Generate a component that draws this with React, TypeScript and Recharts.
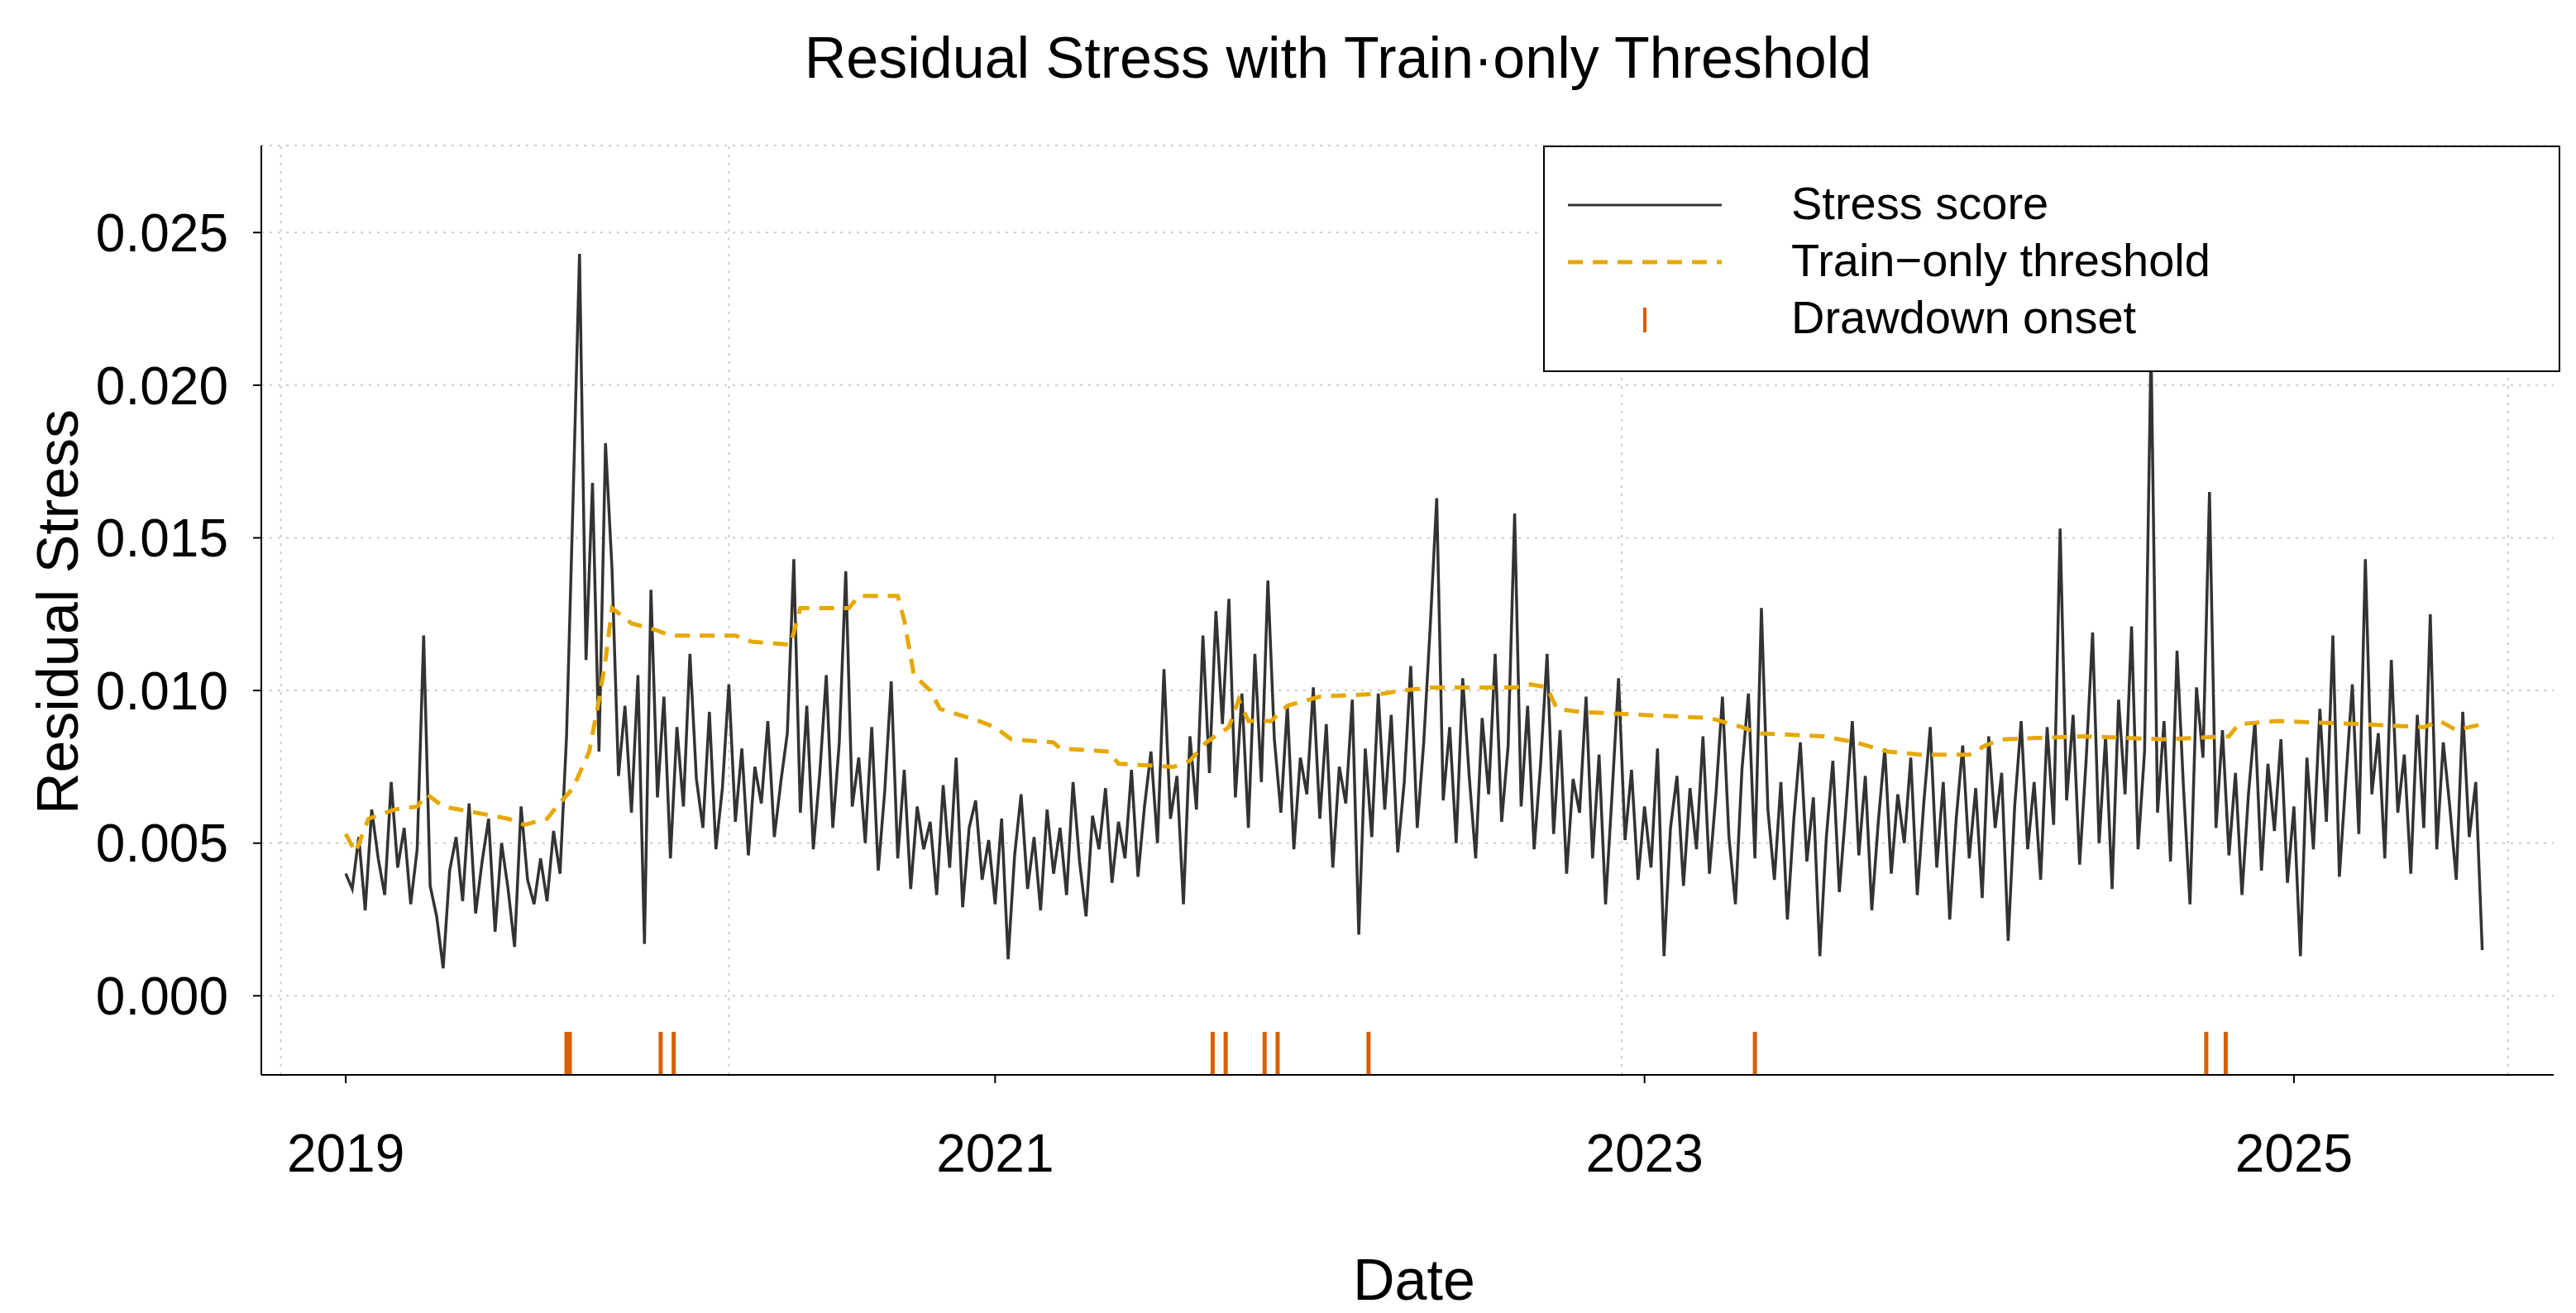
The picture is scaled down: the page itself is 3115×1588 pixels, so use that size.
import React from "react";
import { ComposedChart, Line, XAxis, YAxis, CartesianGrid, ReferenceLine } from "recharts";

const startYear = 2019.0;
const stepYear = 0.02;
const stressValues = [
.0040,.0035,.0052,.0028,.0061,.0045,.0033,.0070,.0042,.0055,
.0030,.0048,.0118,.0036,.0026,.0009,.0041,.0052,.0031,.0063,
.0027,.0044,.0058,.0021,.0050,.0035,.0016,.0062,.0038,.0030,
.0045,.0031,.0054,.0040,.0085,.0162,.0243,.0110,.0168,.0080,
.0181,.0140,.0072,.0095,.0060,.0105,.0017,.0133,.0065,.0098,
.0045,.0088,.0062,.0112,.0071,.0055,.0093,.0048,.0068,.0102,
.0057,.0081,.0046,.0075,.0063,.0090,.0052,.0070,.0086,.0143,
.0060,.0095,.0048,.0073,.0105,.0055,.0083,.0139,.0062,.0078,
.0050,.0088,.0041,.0067,.0103,.0045,.0074,.0035,.0062,.0048,
.0057,.0033,.0069,.0042,.0078,.0029,.0055,.0064,.0038,.0051,
.0030,.0058,.0012,.0046,.0066,.0035,.0052,.0028,.0061,.0040,
.0055,.0033,.0070,.0044,.0026,.0059,.0048,.0068,.0037,.0057,
.0045,.0074,.0039,.0062,.0080,.0050,.0107,.0058,.0072,.0030,
.0085,.0061,.0118,.0073,.0126,.0089,.0130,.0065,.0099,.0055,
.0112,.0070,.0136,.0084,.0060,.0095,.0048,.0078,.0066,.0101,
.0058,.0089,.0042,.0075,.0063,.0097,.0020,.0081,.0052,.0099,
.0061,.0092,.0047,.0070,.0108,.0055,.0083,.0121,.0163,.0064,
.0088,.0050,.0104,.0072,.0045,.0091,.0066,.0112,.0057,.0082,
.0158,.0062,.0095,.0048,.0076,.0112,.0053,.0087,.0040,.0071,
.0060,.0098,.0045,.0079,.0030,.0066,.0104,.0051,.0074,.0038,
.0062,.0042,.0081,.0013,.0055,.0072,.0036,.0068,.0048,.0085,
.0040,.0066,.0098,.0052,.0030,.0074,.0099,.0045,.0127,.0061,
.0038,.0070,.0025,.0058,.0083,.0044,.0065,.0013,.0052,.0077,
.0034,.0061,.0090,.0046,.0072,.0028,.0057,.0081,.0040,.0066,
.0050,.0078,.0033,.0063,.0088,.0042,.0070,.0025,.0058,.0082,
.0045,.0068,.0032,.0085,.0055,.0073,.0018,.0062,.0090,.0048,
.0070,.0038,.0088,.0056,.0153,.0064,.0092,.0043,.0077,.0119,
.0050,.0085,.0035,.0097,.0066,.0121,.0048,.0080,.0213,.0060,
.0090,.0044,.0113,.0068,.0030,.0101,.0078,.0165,.0055,.0087,
.0046,.0073,.0033,.0066,.0090,.0041,.0076,.0054,.0084,.0037,
.0062,.0013,.0078,.0048,.0094,.0057,.0118,.0039,.0071,.0102,
.0053,.0143,.0066,.0086,.0045,.0110,.0060,.0079,.0040,.0092,
.0055,.0125,.0048,.0083,.0062,.0038,.0093,.0052,.0070,.0015,
];

const thresholdYears = [2019.00,2019.03,2019.07,2019.15,2019.22,2019.25,2019.30,2019.50,2019.55,2019.62,2019.65,2019.70,2019.75,2019.78,2019.80,2019.82,2019.88,2019.95,2020.00,2020.20,2020.25,2020.37,2020.40,2020.55,2020.58,2020.70,2020.72,2020.75,2020.80,2020.83,2020.95,2021.00,2021.05,2021.18,2021.20,2021.35,2021.38,2021.55,2021.60,2021.65,2021.72,2021.75,2021.78,2021.85,2021.90,2022.00,2022.20,2022.25,2022.35,2022.60,2022.65,2022.70,2022.73,2022.80,2023.00,2023.20,2023.30,2023.35,2023.55,2023.65,2023.75,2023.85,2024.00,2024.05,2024.10,2024.35,2024.60,2024.80,2024.83,2024.95,2025.20,2025.40,2025.45,2025.50,2025.58];
const thresholdValues = [.0053,.0047,.0058,.0061,.0062,.0066,.0062,.0058,.0056,.0058,.0062,.0068,.0080,.0097,.0110,.0127,.0122,.0120,.0118,.0118,.0116,.0115,.0127,.0127,.0131,.0131,.0123,.0105,.0100,.0094,.0090,.0088,.0084,.0083,.0081,.0080,.0076,.0075,.0077,.0083,.0088,.0097,.0090,.0090,.0095,.0098,.0099,.0100,.0101,.0101,.0102,.0101,.0094,.0093,.0092,.0091,.0088,.0086,.0085,.0083,.0080,.0079,.0079,.0082,.0084,.0085,.0084,.0085,.0089,.0090,.0089,.0088,.0090,.0087,.0089];

const onsetYears = [2019.68, 2019.69, 2019.97, 2020.01, 2021.67, 2021.71, 2021.83, 2021.87, 2022.15, 2023.34, 2024.73, 2024.79];
const xTicks = [2019, 2021, 2023, 2025];
const yTicks = [0, 0.005, 0.01, 0.015, 0.02, 0.025];
const vGridYears = [2018.80, 2020.18, 2022.93, 2025.66];

const stressData = stressValues.map((v, i) => ({ x: startYear + i * stepYear, stress: v }));
const thresholdData = thresholdYears.map((x, i) => ({ x, thr: thresholdValues[i] }));

const FONT = "'Liberation Sans', Arial, sans-serif";
const ORANGE = "#D95F02";
const GOLD = "#E6A800";

export default function App() {
  return (
    <div style={{ position: "relative", width: 3100, height: 1572, fontFamily: FONT, background: "#fff" }}>
      <ComposedChart width={3088} height={1566} margin={{ top: 168, right: 8, left: 108, bottom: 134 }}>
        <CartesianGrid vertical={false} stroke="#cccccc" strokeDasharray="3 7" strokeWidth={2} />
        {vGridYears.map((x) => (
          <ReferenceLine key={"g" + x} x={x} stroke="#cccccc" strokeDasharray="3 7" strokeWidth={2} />
        ))}
        <XAxis dataKey="x" type="number" domain={[2018.74, 2025.8]} ticks={xTicks} allowDataOverflow
          height={140} tickSize={10} tickMargin={62} stroke="#000" strokeWidth={2}
          tick={{ fill: "#000", fontSize: 64, fontFamily: FONT }} />
        <YAxis type="number" domain={[-0.00259, 0.02785]} ticks={yTicks} allowDataOverflow
          width={200} tickSize={10} tickMargin={30} stroke="#000" strokeWidth={2}
          tickFormatter={(v: number) => v.toFixed(3)}
          tick={{ fill: "#000", fontSize: 64, fontFamily: FONT }} />
        <Line data={stressData} dataKey="stress" type="linear" stroke="#333333" strokeWidth={3.5} dot={false} isAnimationActive={false} />
        <Line data={thresholdData} dataKey="thr" type="linear" stroke={GOLD} strokeWidth={5} strokeDasharray="18 12" dot={false} isAnimationActive={false} />
        {onsetYears.map((x) => (
          <ReferenceLine key={"o" + x} segment={[{ x, y: -0.00118 }, { x, y: -0.00259 }]} stroke={ORANGE} strokeWidth={5} />
        ))}
      </ComposedChart>
      <div style={{ position: "absolute", left: 0, width: 3220, top: 22, textAlign: "center", fontSize: 70 }}>
        Residual Stress with Train·only Threshold
      </div>
      <div style={{ position: "absolute", left: 0, width: 3404, top: 1500, textAlign: "center", fontSize: 70 }}>Date</div>
      <div style={{ position: "absolute", left: 62, top: 732, width: 0, height: 0 }}>
        <div style={{ position: "absolute", transform: "translate(-50%,-50%) rotate(-90deg)", whiteSpace: "nowrap", fontSize: 70 }}>
          Residual Stress
        </div>
      </div>
      <div style={{ position: "absolute", left: 1858, top: 168, width: 1230, height: 274, border: "2px solid #000", background: "#fff", boxSizing: "border-box", fontSize: 56 }}>
        {[
          { label: "Stress score", kind: "line" },
          { label: "Train\u2212only threshold", kind: "dash" },
          { label: "Drawdown onset", kind: "tick" },
        ].map((it, i) => (
          <div key={i} style={{ position: "absolute", left: 0, top: 70 + i * 69, width: "100%" }}>
            <svg style={{ position: "absolute", left: 28, top: -30 }} width={190} height={60}>
              {it.kind === "line" && <line x1={0} y1={30} x2={186} y2={30} stroke="#333" strokeWidth={3} />}
              {it.kind === "dash" && <line x1={0} y1={30} x2={186} y2={30} stroke={GOLD} strokeWidth={5} strokeDasharray="18 12" />}
              {it.kind === "tick" && <line x1={93} y1={16} x2={93} y2={46} stroke={ORANGE} strokeWidth={4} />}
            </svg>
            <div style={{ position: "absolute", left: 298, top: -32, lineHeight: "60px", whiteSpace: "nowrap" }}>{it.label}</div>
          </div>
        ))}
      </div>
    </div>
  );
}
